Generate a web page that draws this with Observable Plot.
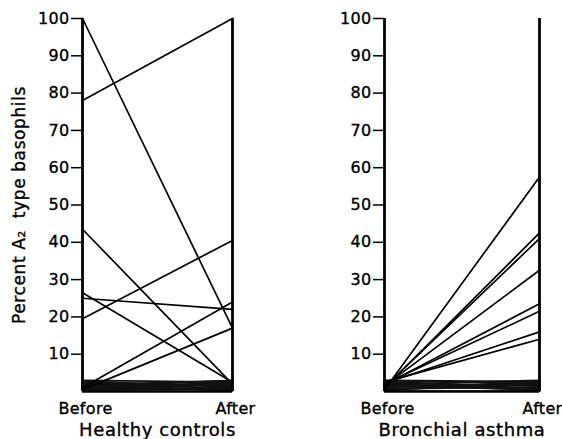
<!DOCTYPE html>
<html><head><meta charset="utf-8">
<script src="https://cdn.jsdelivr.net/npm/d3@7"></script>
<script src="https://cdn.jsdelivr.net/npm/@observablehq/plot@0.6"></script>
<style>
body{margin:0;background:#fff;}
#wrap{position:relative;width:562px;height:439px;background:#fff;}
#wrap svg{position:absolute;top:0;}
#wrap svg text{stroke:#000;stroke-width:0.35px;letter-spacing:0.3px;}
#wrap g[aria-label="x-axis label"] text{font-size:18px;letter-spacing:0.6px;}
#wrap g[aria-label="y-axis label"] text{font-size:17px;letter-spacing:0.6px;}
</style></head><body><div id="wrap"></div>
<script>
const phases = ["Before", "After"];
const yTicks = [10, 20, 30, 40, 50, 60, 70, 80, 90, 100];
const yLabel = "Percent A₂  type basophils";
const panelTitles = ["Healthy controls", "Bronchial asthma"];

// Healthy controls: individual subjects
const controlsBefore = [100, 78, 43.5, 26.5, 25, 19.5, 1, 0.5];
const controlsAfter  = [17, 100, 2, 2.5, 22, 40.5, 24, 17];
// Healthy controls: subjects staying near zero (dense band)
const controlsLowBefore = [0.2, 0.6, 1.0, 1.4, 1.8, 2.2, 2.6, 3.0, 0.8, 2.0, 1.2, 2.8, 0.4, 1.6];
const controlsLowAfter  = [2.7, 1.0, 2.3, 0.4, 2.9, 1.5, 0.7, 2.5, 1.9, 0.2, 3.0, 1.2, 0.6, 2.0];

// Bronchial asthma: individual subjects
const asthmaBefore = [0.5, 1.0, 1.2, 1.5, 1.8, 2.0, 2.2, 2.5];
const asthmaAfter  = [57.5, 42.5, 41, 32.5, 23.5, 21.5, 16, 14];
// Bronchial asthma: subjects staying near zero (dense band)
const asthmaLowBefore = [0.3, 0.7, 1.1, 1.5, 1.9, 2.3, 2.7, 3.0, 0.5, 2.1, 1.3, 2.9, 0.1, 1.7];
const asthmaLowAfter  = [2.8, 1.2, 2.4, 0.5, 3.0, 1.6, 0.8, 2.6, 2.0, 0.3, 1.0, 2.2, 0.1, 1.8];

function rows(b, a, tag) {
  return b.flatMap((v, i) => [
    {id: tag + i, phase: phases[0], value: v},
    {id: tag + i, phase: phases[1], value: a[i]}
  ]);
}

const font = "DejaVu Sans, sans-serif";

function panel(main, low, title, opts) {
  return Plot.plot({
    width: 262,
    height: 439,
    marginTop: 18,
    marginBottom: 48,
    marginLeft: opts.marginLeft,
    marginRight: opts.marginRight,
    style: {fontFamily: font, fontSize: "16px", color: "#000", background: "transparent"},
    x: {type: "point", domain: phases, padding: 0},
    y: {domain: [0, 100]},
    marks: [
      Plot.line(low, {x: "phase", y: "value", z: "id", stroke: "#111", strokeWidth: 1.8}),
      Plot.ruleY([0], {stroke: "#000", strokeWidth: 2.5}),
      Plot.ruleX(phases, {y1: 0, y2: 100, stroke: "#000", strokeWidth: 2.8}),
      Plot.line(main, {x: "phase", y: "value", z: "id", stroke: "#000", strokeWidth: 1.7}),
      Plot.axisY({ticks: yTicks, tickSize: 11, tickPadding: 2, strokeWidth: 1.5,
        label: opts.ylabel, labelAnchor: "center", labelArrow: "none", labelOffset: 70}),
      Plot.axisX({tickSize: 0, tickPadding: 11, dx: 3, label: title,
        labelAnchor: "center", labelArrow: "none", labelOffset: 44})
    ]
  });
}

const wrap = document.getElementById("wrap");
const left = panel(rows(controlsBefore, controlsAfter, "c"), rows(controlsLowBefore, controlsLowAfter, "cl"),
  panelTitles[0], {marginLeft: 82, marginRight: 30, ylabel: yLabel});
left.style.left = "0px";
const right = panel(rows(asthmaBefore, asthmaAfter, "a"), rows(asthmaLowBefore, asthmaLowAfter, "al"),
  panelTitles[1], {marginLeft: 84, marginRight: 23, ylabel: null});
right.style.left = "300px";
wrap.appendChild(left);
wrap.appendChild(right);
</script></body></html>
